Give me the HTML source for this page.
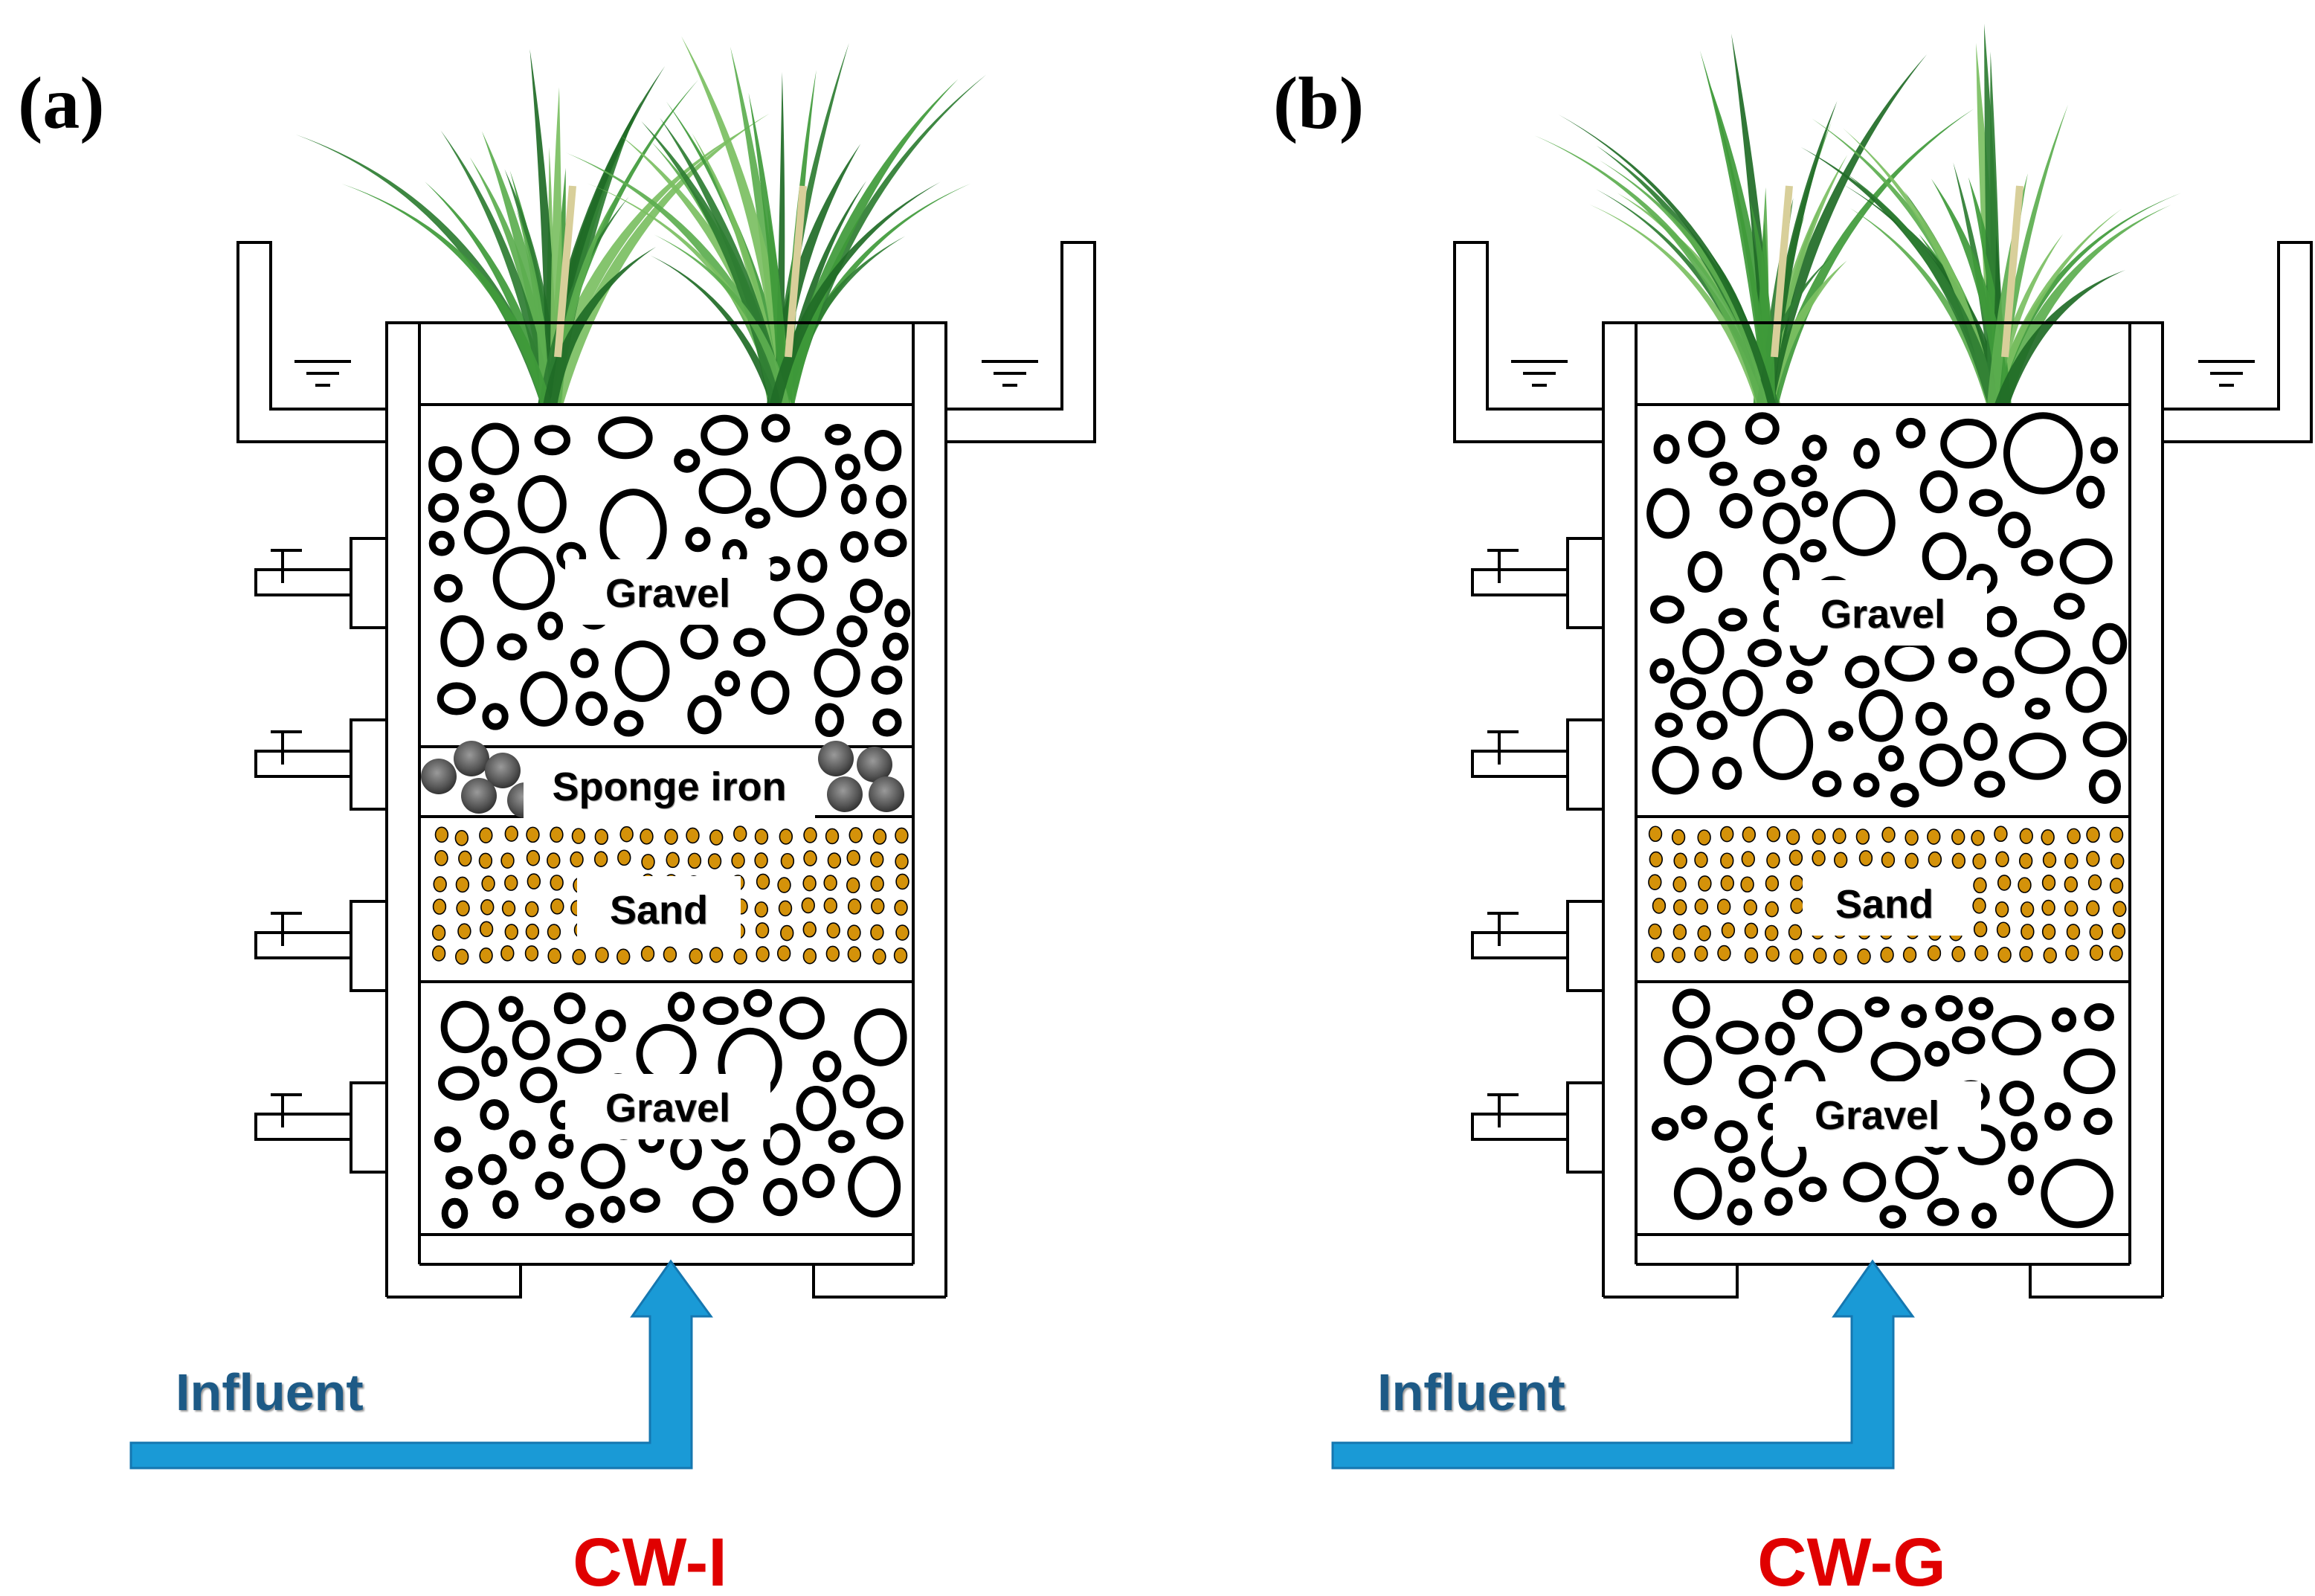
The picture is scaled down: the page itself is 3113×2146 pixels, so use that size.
<!DOCTYPE html>
<html><head><meta charset="utf-8"><style>
html,body{margin:0;padding:0;background:#fff;}
svg{display:block;}
</style></head><body>
<svg id="s" width="3113" height="2146" viewBox="0 0 1556.5 1073" xmlns="http://www.w3.org/2000/svg">
<defs>
<radialGradient id="fe" cx="0.45" cy="0.4" r="0.6"><stop offset="0" stop-color="#9a9a9a"/><stop offset="0.7" stop-color="#555"/><stop offset="1" stop-color="#333"/></radialGradient>
</defs>
<text x="12" y="86" font-family="Liberation Serif,serif" font-weight="bold" font-size="50">(a)</text>
<text x="856" y="86" font-family="Liberation Serif,serif" font-weight="bold" font-size="50">(b)</text>
<g id="g"></g>
</svg>
<script>
var NS="http://www.w3.org/2000/svg",G=document.getElementById('g');
function el(t,a,p){var e=document.createElementNS(NS,t);for(var k in a)e.setAttribute(k,a[k]);(p||G).appendChild(e);return e;}
var seed=7;function R(){seed=(seed*16807)%2147483647;return seed/2147483647;}
function diagram(dx,iron,name,adx){
 var g=el('g',{transform:'translate('+dx+',0)'});
 [370,525].forEach(function(cx){
  for(var i=0;i<24;i++){
   var a=(R()-0.5)*1.5, len=110+R()*150, bx=cx+(R()-0.5)*10, by=272;
   var tx=bx+Math.sin(a)*len, ty=by-Math.cos(a)*len;
   var mx=bx+Math.sin(a)*len*0.25+(R()-0.5)*10, my=by-len*0.55;
   var w=2.5+R()*2.5;
   var col=['#2e7d32','#3f9a3a','#5cae4f','#1f6b26','#7bbf62'][i%5];
   el('path',{d:'M'+(bx-w)+','+by+' Q'+(mx-w)+','+my+' '+tx+','+ty+' Q'+(mx+w)+','+my+' '+(bx+w)+','+by+'Z',fill:col,opacity:0.92},g);
  }
  el('path',{d:'M'+(cx+5)+',240 Q'+(cx+10)+',180 '+(cx+15)+',125',stroke:'#d8cf9a','stroke-width':5,fill:'none'},g);
 });
 el('path',{d:'M260,872 V217 H636 V872 M282,850 V217 M614,850 V217 M260,872 H350 V850 M547,850 V872 H636 M282,850 H614 M282,830 H614',fill:'none',stroke:'#000','stroke-width':2},g);
 el('path',{d:'M282,272 H614 M282,660 H614 M282,549 H614'+(iron?' M282,502 H614':''),fill:'none',stroke:'#000','stroke-width':2},g);
 el('path',{d:'M260,297 H160 V163 H182 V275 H260 M636,297 H736 V163 H714 V275 H636',fill:'none',stroke:'#000','stroke-width':2},g);
 el('path',{d:'M198,243 H236 M206,251 H228 M212,259 H222 M660,243 H698 M668,251 H690 M674,259 H684',stroke:'#000','stroke-width':2},g);
 [362,484,606,728].forEach(function(y){
  el('path',{d:'M260,'+y+' H236 V'+(y+60)+' H260 M236,'+(y+21)+' H172 V'+(y+38)+' H236 M190,'+(y+8)+' V'+(y+30)+' M182,'+(y+8)+' H203',fill:'none',stroke:'#000','stroke-width':2},g);
 });
 function gravel(y0,y1){
  var P=[];
  for(var t=0;t<4000;t++){
   var rx=6+R()*11, ry=rx*(0.75+R()*0.5); if(R()<0.08){rx+=9;ry+=11;}
   var x=290+rx+R()*(320-2*rx), y=y0+6+ry+R()*(y1-y0-12-2*ry);
   var ok=true;
   for(var i=0;i<P.length;i++){var p=P[i];var dd=Math.hypot(p[0]-x,p[1]-y);if(dd<Math.max(p[2],p[3])+Math.max(rx,ry)+7){ok=false;break;}}
   if(ok){P.push([x,y,rx,ry]);}
  }
  P.forEach(function(p){el('ellipse',{cx:p[0],cy:p[1],rx:p[2],ry:p[3],fill:'none',stroke:'#000','stroke-width':4.5},g);});
 }
 gravel(272,iron?502:549); gravel(660,830);
 for(var y=562;y<655;y+=16)for(var x=296;x<608;x+=15.5){
  el('ellipse',{cx:x+(R()-0.5)*3,cy:y+(R()-0.5)*3,rx:4.2,ry:5,fill:'#d4920a',stroke:'#000','stroke-width':0.8},g);
 }
 if(iron){
  [[295,522],[317,510],[338,518],[322,535],[353,538],[562,510],[588,514],[568,534],[596,534]].forEach(function(p){
   el('circle',{cx:p[0],cy:p[1],r:12,fill:'url(#fe)'},g);});
 }
 function lab(x,y,w,t){el('rect',{x:x,y:y,width:w,height:44,fill:'#fff'},g);
  var tx=el('text',{x:x+w/2,y:y+32,'text-anchor':'middle','font-family':'Liberation Sans,sans-serif','font-weight':'bold','font-size':27,fill:'#000',style:'text-shadow:1px 1px 1px #888'},g);tx.textContent=t;}
 if(iron){lab(380,376,138,'Gravel');lab(352,506,196,'Sponge iron');lab(388,589,110,'Sand');lab(380,722,138,'Gravel');}
 else{lab(378,390,140,'Gravel');lab(394,585,110,'Sand');lab(374,727,140,'Gravel');}
 var ag=el('g',{transform:'translate('+adx+',0)'},g);
 el('path',{d:'M88,970 H437 V885 H425 L451,848 L478,885 H465 V987 H88 Z',fill:'#1a9ad6',stroke:'#1577b0','stroke-width':1.5},ag);
 var t=el('text',{x:118,y:948,'font-family':'Liberation Sans,sans-serif','font-weight':'bold','font-size':35,fill:'#1d5a86',style:'text-shadow:2px 2px 2px #999'},ag);t.textContent='Influent';
 var c=el('text',{x:437,y:1066,'text-anchor':'middle','font-family':'Liberation Sans,sans-serif','font-weight':'bold','font-size':46,fill:'#e00000'},ag);c.textContent=name;
}
diagram(0,true,'CW-I',0);
diagram(818,false,'CW-G',-10);
</script>
</body></html>
